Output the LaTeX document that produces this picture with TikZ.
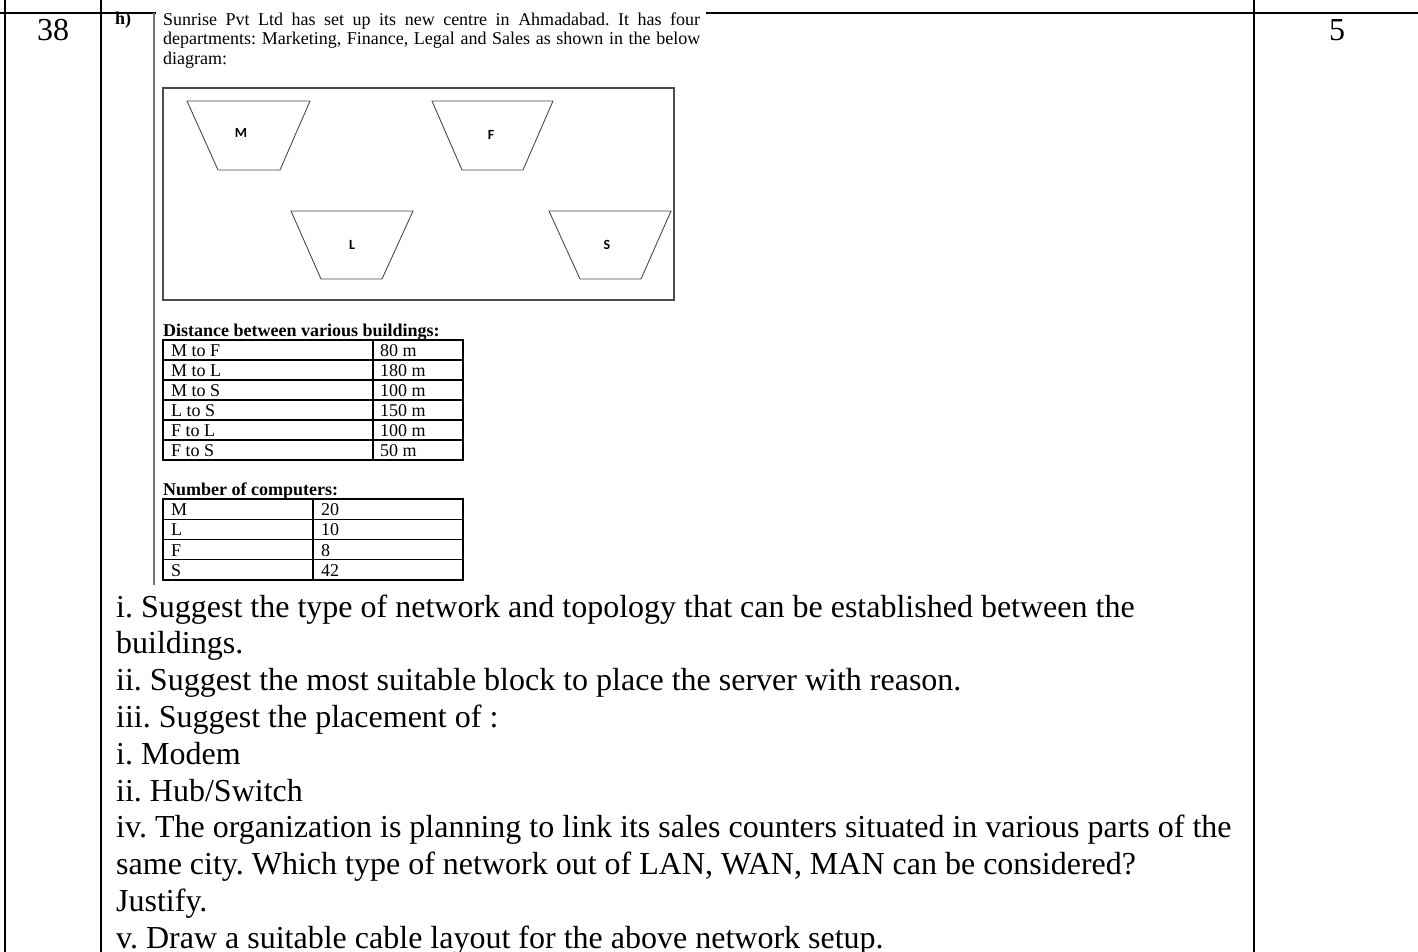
\documentclass[tikz,border=0pt]{standalone}
\usepackage{fontspec}
\setmainfont{Liberation Serif}
\newfontfamily\labfont{Carlito}
\frenchspacing
\begin{document}
\begin{tikzpicture}[x=1pt,y=-1pt,
  frame/.style={line width=2.6pt,black},
  tbl/.style={line width=1.1pt,black},
  bld/.style={draw=black!70,line width=0.9pt},
  boxline/.style={draw=black!70,line width=1.3pt},
  bigtxt/.style={anchor=base west,inner sep=0pt,font=\fontsize{32}{36.8}\selectfont},
  bignum/.style={anchor=base,inner sep=0pt,font=\fontsize{32}{36.8}\selectfont},
  smalltxt/.style={anchor=base west,inner sep=0pt,font=\fontsize{18}{19.5}\selectfont},
  smallbold/.style={anchor=base west,inner sep=0pt,font=\fontsize{18}{19.5}\selectfont\bfseries},
  lab/.style={inner sep=0pt,font=\labfont\bfseries\fontsize{14}{14}\selectfont},
]
\useasboundingbox (0,0) rectangle (1418,952);
\fill[white] (0,0) rectangle (1418,952);

% outer table lines
\draw[frame] (0,13) -- (156,13);
\draw[frame] (706,13) -- (1418,13);
\draw[frame] (5,0) -- (5,952);
\draw[frame] (101,0) -- (101,952);
\draw[frame] (1254,0) -- (1254,952);

% numbers
\node[bignum] (qno) at (53,41) {38};
\node[bignum] (marks) at (1337,41) {5};

% pasted question block
\draw[draw=black!55,line width=1.6pt] (154,13) -- (154,585);
\node[smallbold] (hlab) at (115,25) {h)};
\node[smalltxt] (p1) at (163,26) {\makebox[537pt][s]{Sunrise Pvt Ltd has set up its new centre in Ahmadabad. It has four}};
\node[smalltxt] (p2) at (163,45) {\makebox[537pt][s]{departments: Marketing, Finance, Legal and Sales as shown in the below}};
\node[smalltxt] (p3) at (163,64.5) {diagram:};

% site plan
\draw[boxline] (163,88) rectangle (674,300);
\draw[bld] (187,101) -- (310,101) -- (280,170) -- (218,170) -- cycle;
\draw[bld] (432,101) -- (553,101) -- (523,170) -- (462,170) -- cycle;
\draw[bld] (291,211) -- (413,211) -- (382,279) -- (321,279) -- cycle;
\draw[bld] (549,211) -- (671,211) -- (641,279) -- (580,279) -- cycle;
\node[lab] (m) at (241,133) {M};
\node[lab] (f) at (491,135) {F};
\node[lab] (l) at (352,245) {L};
\node[lab] (s) at (607,245) {S};

% distance table
\node[smallbold] (dh) at (163,336) {Distance between various buildings:};
\draw[tbl] (163,340) rectangle (463,460);
\foreach \yy in {360,380,400,420,440} \draw[tbl] (163,\yy) -- (463,\yy);
\draw[tbl] (373,340) -- (373,460);
\node[smalltxt] (d1a) at (171,356) {M to F};  \node[smalltxt] (d1b) at (380,356) {80 m};
\node[smalltxt] (d2a) at (171,376) {M to L};  \node[smalltxt] (d2b) at (380,376) {180 m};
\node[smalltxt] (d3a) at (171,396) {M to S};  \node[smalltxt] (d3b) at (380,396) {100 m};
\node[smalltxt] (d4a) at (171,416) {L to S};  \node[smalltxt] (d4b) at (380,416) {150 m};
\node[smalltxt] (d5a) at (171,436) {F to L};  \node[smalltxt] (d5b) at (380,436) {100 m};
\node[smalltxt] (d6a) at (171,456) {F to S};  \node[smalltxt] (d6b) at (380,456) {50 m};

% computers table
\node[smallbold] (ch) at (163,495) {Number of computers:};
\draw[tbl] (163,499) rectangle (463,580);
\foreach \yy in {519.25,539.5,559.75} \draw[tbl] (163,\yy) -- (463,\yy);
\draw[tbl] (313,499) -- (313,580);
\node[smalltxt] (c1a) at (171,515.5) {M};  \node[smalltxt] (c1b) at (321,515.5) {20};
\node[smalltxt] (c2a) at (171,535.5) {L};  \node[smalltxt] (c2b) at (321,535.5) {10};
\node[smalltxt] (c3a) at (171,556) {F};    \node[smalltxt] (c3b) at (321,556) {8};
\node[smalltxt] (c4a) at (171,576) {S};    \node[smalltxt] (c4b) at (321,576) {42};

% questions
\node[bigtxt] (q1)  at (116,617)   {i. Suggest the type of network and topology that can be established between the};
\node[bigtxt] (q2)  at (116,653.8) {buildings.};
\node[bigtxt] (q3)  at (116,690.6) {ii. Suggest the most suitable block to place the server with reason.};
\node[bigtxt] (q4)  at (116,727.4) {iii. Suggest the placement of :};
\node[bigtxt] (q5)  at (116,764.2) {i. Modem};
\node[bigtxt] (q6)  at (116,801)   {ii. Hub/Switch};
\node[bigtxt] (q7)  at (116,837.8) {iv. The organization is planning to link its sales counters situated in various parts of the};
\node[bigtxt] (q8)  at (116,874.6) {same city. Which type of network out of LAN, WAN, MAN can be considered?};
\node[bigtxt] (q9)  at (116,911.4) {Justify.};
\node[bigtxt] (q10) at (116,948.2) {v. Draw a suitable cable layout for the above network setup.};
\end{tikzpicture}
\end{document}
